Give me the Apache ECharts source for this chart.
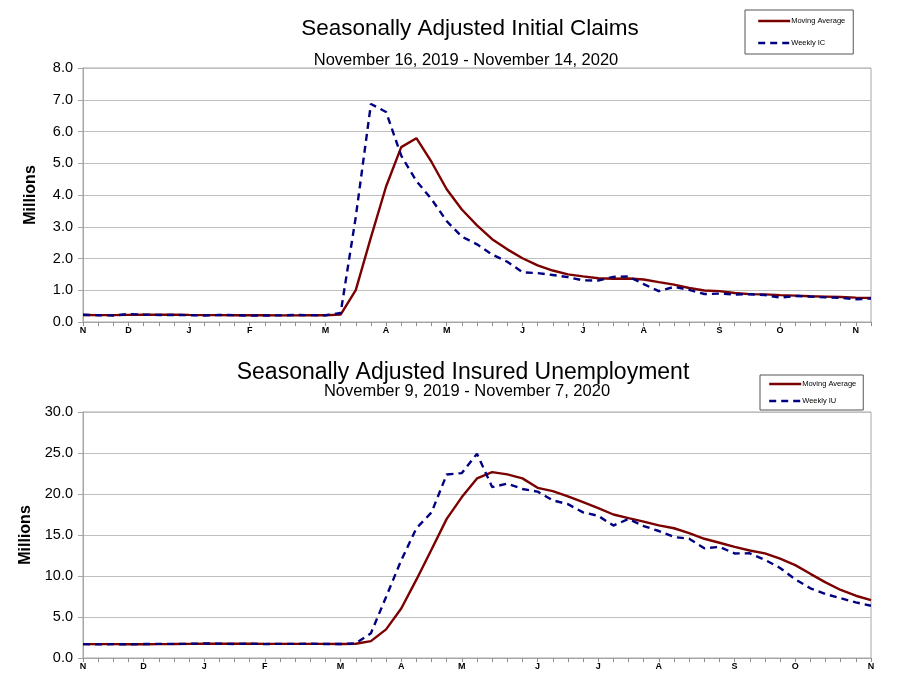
<!DOCTYPE html>
<html>
<head>
<meta charset="utf-8">
<script src="https://cdn.jsdelivr.net/npm/echarts@6/dist/echarts.min.js"></script>
<style>html,body{margin:0;padding:0;background:#fff;}#c{width:899px;height:698px;}</style>
</head>
<body>
<div id="c"></div>
<script>
// ---- Data ----
var topWeeks = 53; // Nov 16, 2019 ... Nov 14, 2020 (weekly)
var botWeeks = 53; // Nov 9, 2019 ... Nov 7, 2020 (weekly)
var topMonthTicks = [[0,'N'],[3,'D'],[7,'J'],[11,'F'],[16,'M'],[20,'A'],[24,'M'],[29,'J'],[33,'J'],[37,'A'],[42,'S'],[46,'O'],[51,'N']];
var botMonthTicks = [[0,'N'],[4,'D'],[8,'J'],[12,'F'],[17,'M'],[21,'A'],[25,'M'],[30,'J'],[34,'J'],[38,'A'],[43,'S'],[47,'O'],[52,'N']];

var icWeekly = [0.227,0.213,0.203,0.252,0.234,0.220,0.222,0.214,0.204,0.223,0.216,0.201,0.205,0.210,0.219,0.216,0.211,
  0.282,3.307,6.867,6.615,5.237,4.442,3.867,3.176,2.687,2.446,2.123,1.897,1.566,1.540,1.482,1.413,1.310,1.307,1.422,1.435,
  1.191,0.971,1.106,1.011,0.881,0.893,0.866,0.873,0.849,0.767,0.820,0.800,0.775,0.760,0.715,0.742];
var icMA = [0.219,0.218,0.217,0.224,0.226,0.227,0.232,0.223,0.215,0.216,0.214,0.211,0.211,0.208,0.209,0.213,0.214,
  0.232,1.004,2.667,4.268,5.507,5.790,5.040,4.180,3.543,3.044,2.608,2.288,2.008,1.782,1.621,1.500,1.436,1.378,1.363,1.369,
  1.339,1.255,1.176,1.070,0.992,0.972,0.913,0.878,0.870,0.845,0.830,0.812,0.800,0.788,0.768,0.755];

var iuWeekly = [1.693,1.661,1.693,1.667,1.710,1.722,1.725,1.728,1.774,1.747,1.709,1.751,1.698,1.726,1.724,1.733,1.703,1.702,1.784,
  3.029,7.446,11.914,15.819,17.756,22.377,22.548,24.912,20.838,21.268,20.606,20.289,19.231,18.760,17.760,17.338,16.151,16.951,
  16.090,15.486,14.759,14.535,13.385,13.544,12.747,12.767,11.979,10.976,9.600,8.500,7.800,7.285,6.786,6.372];
var iuMA = [1.695,1.690,1.688,1.679,1.683,1.698,1.706,1.721,1.737,1.744,1.740,1.745,1.726,1.721,1.725,1.720,1.722,1.716,1.731,
  2.054,3.490,6.043,9.552,13.234,16.967,19.625,21.898,22.669,22.391,21.906,20.750,20.349,19.722,19.010,18.272,17.502,17.050,
  16.633,16.170,15.822,15.218,14.541,14.056,13.553,13.111,12.759,12.117,11.330,10.264,9.219,8.296,7.593,7.061];

var topTitle = 'Seasonally Adjusted Initial Claims';
var topSub = 'November 16, 2019 - November 14, 2020';
var botTitle = 'Seasonally Adjusted Insured Unemployment';
var botSub = 'November 9, 2019 - November 7, 2020';

// ---- Build ----
function cats(n){ var a=[]; for(var i=0;i<n;i++) a.push(String(i)); return a; }
function tickMap(list){ var m={}; list.forEach(function(t){ m[t[0]]=t[1]; }); return m; }
var topMap = tickMap(topMonthTicks), botMap = tickMap(botMonthTicks);
var FONT = '"Liberation Sans", Arial, sans-serif';
var MA_COLOR = '#7b0000', WK_COLOR = '#000080';

function xAxis(gi, n, map){
  return {
    type:'category', gridIndex:gi, data:cats(n), boundaryGap:false,
    axisLine:{show:true, lineStyle:{color:'#a6a6a6', width:1}},
    axisTick:{show:true, interval:0, length:4, lineStyle:{color:'#8c8c8c'}},
    axisLabel:{show:true, interval:function(i){ return map[i]!==undefined; },
      formatter:function(v,i){ return map[i]||''; },
      fontFamily:FONT, fontSize:9, fontWeight:'bold', color:'#000', margin:4},
    splitLine:{show:false}
  };
}
function yAxis(gi, max, interval){
  return {
    type:'value', gridIndex:gi, min:0, max:max, interval:interval,
    name:'Millions', nameLocation:'middle', nameGap:44, nameRotate:90,
    nameTextStyle:{fontFamily:FONT, fontSize:16, fontWeight:'bold', color:'#000'},
    axisLine:{show:true, lineStyle:{color:'#a6a6a6'}},
    axisTick:{show:true, length:5, lineStyle:{color:'#a6a6a6'}},
    axisLabel:{formatter:function(v){ return v.toFixed(1); }, fontFamily:FONT, fontSize:14.5, color:'#000', margin:10},
    splitLine:{show:true, lineStyle:{color:'#bfbfbf', width:1}}
  };
}
function line(name, data, gi, color, dashed){
  return {
    name:name, type:'line', xAxisIndex:gi, yAxisIndex:gi, data:data,
    symbol:'none', showSymbol:false, smooth:false, animation:false,
    lineStyle:{color:color, width:2.4, type: dashed ? [7,5] : 'solid'},
    itemStyle:{color:color}, z: dashed ? 3 : 2
  };
}
function legend(left, top, names, gap, pad){
  return {left:left, top:top, orient:'vertical', data:names, itemWidth:32, itemHeight:8, itemGap:gap,
    padding:pad, borderColor:'#555', borderWidth:1, backgroundColor:'#fff',
    itemStyle:{opacity:0}, lineStyle:{width:2.4},
    textStyle:{fontFamily:FONT, fontSize:7.5, color:'#000', padding:[0,0,0,-4]}};
}

var option = {
  animation:false,
  backgroundColor:'#fff',
  title:[
    {text:topTitle, left:465, top:12, textAlign:'center', textStyle:{fontFamily:FONT, fontSize:22.5, fontWeight:'normal', color:'#000'}},
    {text:topSub, left:461, top:47, textAlign:'center', textStyle:{fontFamily:FONT, fontSize:16.5, fontWeight:'normal', color:'#000'}},
    {text:botTitle, left:458, top:356, textAlign:'center', textStyle:{fontFamily:FONT, fontSize:23, fontWeight:'normal', color:'#000'}},
    {text:botSub, left:462, top:378, textAlign:'center', textStyle:{fontFamily:FONT, fontSize:16.5, fontWeight:'normal', color:'#000'}}
  ],
  legend:[
    legend(745, 10, ['Moving Average','Weekly IC'], 14, [7,8,7,12]),
    legend(760, 375, ['Moving Average','Weekly IU'], 9, [5,7,5,8])
  ],
  grid:[
    {left:83, right:28, top:68, height:254, show:true, borderColor:'#a6a6a6', borderWidth:1, containLabel:false},
    {left:83, right:28, top:412, height:246, show:true, borderColor:'#a6a6a6', borderWidth:1, containLabel:false}
  ],
  xAxis:[xAxis(0, topWeeks, topMap), xAxis(1, botWeeks, botMap)],
  yAxis:[yAxis(0, 8, 1), yAxis(1, 30, 5)],
  series:[
    line('Moving Average', icMA, 0, MA_COLOR, false),
    line('Weekly IC', icWeekly, 0, WK_COLOR, true),
    line('Moving Average', iuMA, 1, MA_COLOR, false),
    line('Weekly IU', iuWeekly, 1, WK_COLOR, true)
  ]
};
var chart = echarts.init(document.getElementById('c'), null, {renderer:'canvas'});
chart.setOption(option);
</script>
</body>
</html>
